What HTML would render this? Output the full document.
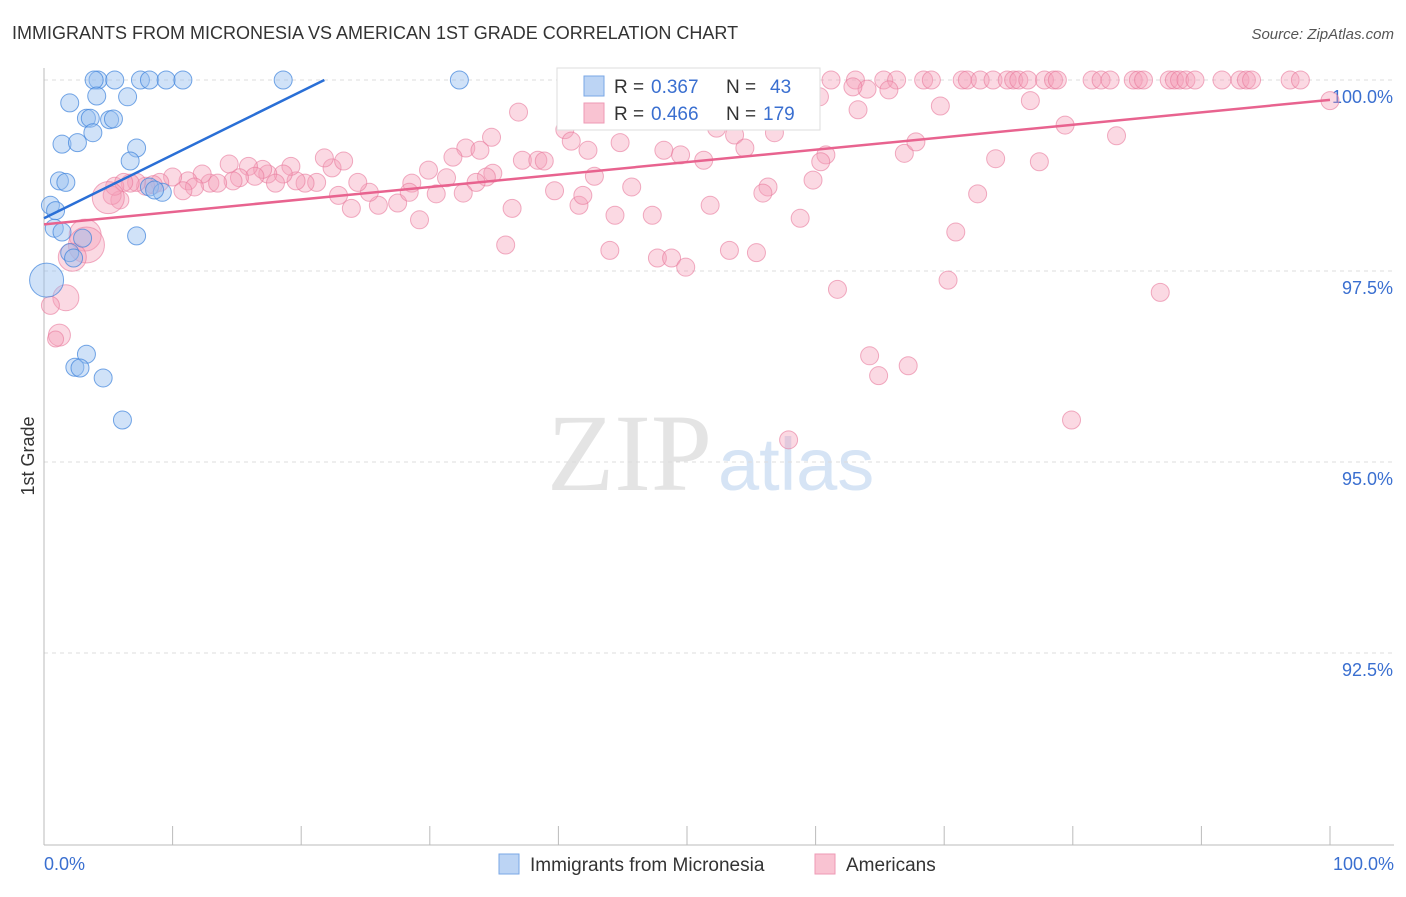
<!DOCTYPE html>
<html><head><meta charset="utf-8"><style>
body{margin:0;background:#fff;font-family:"Liberation Sans",sans-serif;}
</style></head><body>
<svg width="1406" height="892" xmlns="http://www.w3.org/2000/svg" id="chart">
<text x="12" y="39" font-size="18" fill="#333">IMMIGRANTS FROM MICRONESIA VS AMERICAN 1ST GRADE CORRELATION CHART</text>
<text x="1394" y="39" font-size="15" fill="#555" font-style="italic" text-anchor="end">Source: ZipAtlas.com</text>
<text x="712" y="490" font-size="110" fill="#e4e4e4" text-anchor="end" font-family="Liberation Serif">ZIP</text>
<text x="718" y="490" font-size="74" fill="#d6e4f5">atlas</text>
<g id="grid"></g><g id="axes"></g><g id="pink"></g><g id="blue"></g><g id="lines"></g>
<text transform="translate(34,456) rotate(-90)" font-size="18" fill="#333" text-anchor="middle">1st Grade</text>
<text x="44" y="870" font-size="18" fill="#3a6fd0">0.0%</text>
<text x="1394" y="870" font-size="18" fill="#3a6fd0" text-anchor="end">100.0%</text>
<g>
<rect x="557" y="68" width="263" height="62" fill="#fff" stroke="#ddd"/>
<rect x="584" y="76" width="20" height="20" fill="#bcd4f4" stroke="#7aa7e6"/>
<rect x="584" y="103" width="20" height="20" fill="#f9c3d2" stroke="#ee9ab4"/>
<text x="614" y="93" font-size="19" fill="#333">R =</text>
<text x="651" y="93" font-size="19" fill="#3a6fd0">0.367</text>
<text x="726" y="93" font-size="19" fill="#333">N =</text>
<text x="770" y="93" font-size="19" fill="#3a6fd0">43</text>
<text x="614" y="120" font-size="19" fill="#333">R =</text>
<text x="651" y="120" font-size="19" fill="#3a6fd0">0.466</text>
<text x="726" y="120" font-size="19" fill="#333">N =</text>
<text x="763" y="120" font-size="19" fill="#3a6fd0">179</text>
</g>
<g>
<rect x="499" y="854" width="20" height="20" fill="#bcd4f4" stroke="#7aa7e6"/>
<text x="530" y="871" font-size="19" fill="#333">Immigrants from Micronesia</text>
<rect x="815" y="854" width="20" height="20" fill="#f9c3d2" stroke="#ee9ab4"/>
<text x="846" y="871" font-size="19" fill="#333">Americans</text>
</g>
</svg>
<script>
const yTicks=[100,97.5,95,92.5];
const yTickLabels=["100.0%","97.5%","95.0%","92.5%"];
const blueX=[4.2,5.5,7.5,8.2,9.5,10.8,18.6,32.3,3.9,2.0,4.1,6.5,3.3,3.6,5.1,5.4,3.8,1.4,2.6,7.2,6.7,1.2,1.7,8.2,9.2,8.6,0.5,0.9,0.8,1.4,7.2,3.0,2.0,2.3,0.2,3.3,2.4,2.8,4.6,6.1];
const blueY=[100,100,100,100,100,100,100,100,100,99.70,99.79,99.78,99.50,99.50,99.48,99.49,99.31,99.16,99.18,99.11,98.94,98.68,98.66,98.60,98.53,98.56,98.36,98.29,98.06,98.01,97.96,97.93,97.74,97.67,97.38,96.41,96.24,96.23,96.10,95.55];
const blueR=[9,9,9,9,9,9,9,9,9,9,9,9,9,9,9,9,9,9,9,9,9,9,9,9,9,9,9,9,9,9,9,9,9,9,17,9,9,9,9,9];
const pinkX=[59.3,61.2,63.1,65.3,66.3,68.4,69.0,71.4,71.8,72.8,73.8,74.9,75.4,75.8,76.5,77.8,78.5,78.8,81.5,82.2,82.9,84.7,85.1,85.5,87.5,87.9,88.3,88.8,89.5,91.6,93.0,93.5,93.9,96.9,97.7,
100.0,76.7,69.7,63.3,64.0,65.7,62.9,60.3,52.3,52.3,54.2,53.7,56.8,45.3,43.3,40.5,41.0,36.9,34.8,32.8,33.9,31.8,37.2,38.4,38.9,42.3,44.8,48.2,49.5,51.3,54.5,60.8,60.4,66.9,67.8,79.4,83.4,74.0,77.4,
59.8,56.3,55.9,51.8,45.7,42.8,39.7,41.6,41.9,36.4,34.9,34.4,33.6,32.6,31.3,30.5,29.9,28.6,27.5,28.4,26.0,25.3,24.4,23.9,22.9,22.4,21.8,23.3,21.2,20.3,19.6,19.2,18.6,17.4,18.0,17.0,15.9,16.4,14.4,15.2,14.7,12.9,12.3,13.5,11.2,11.7,10.8,10.0,9.0,8.5,7.9,7.2,6.7,5.9,5.3,5.5,6.2,
29.2,35.9,44.4,47.3,58.8,72.6,70.9,44.0,47.7,48.8,49.9,53.3,55.4,61.7,70.3,86.8,64.2,64.9,67.2,79.9,57.9,
5.0,3.2,3.3,2.2,1.7,0.5,1.2,0.9];
const pinkY=[100,100,100,100,100,100,100,100,100,100,100,100,100,100,100,100,100,100,100,100,100,100,100,100,100,100,100,100,100,100,100,100,100,100,100,
99.73,99.73,99.66,99.61,99.88,99.87,99.91,99.78,99.57,99.37,99.57,99.28,99.31,99.58,99.57,99.35,99.20,99.58,99.25,99.11,99.08,98.99,98.95,98.95,98.94,99.08,99.18,99.08,99.02,98.95,99.11,99.02,98.93,99.04,99.19,99.41,99.27,98.97,98.93,
98.69,98.60,98.52,98.36,98.60,98.74,98.55,98.36,98.49,98.32,98.78,98.73,98.66,98.52,98.72,98.51,98.82,98.65,98.39,98.53,98.36,98.53,98.66,98.32,98.49,98.85,98.98,98.94,98.66,98.65,98.68,98.87,98.77,98.77,98.65,98.83,98.87,98.74,98.90,98.72,98.68,98.65,98.77,98.65,98.68,98.60,98.55,98.73,98.66,98.63,98.61,98.66,98.65,98.43,98.49,98.61,98.66,
98.17,97.84,98.23,98.23,98.19,98.51,98.01,97.77,97.67,97.67,97.55,97.77,97.74,97.26,97.38,97.22,96.39,96.13,96.26,95.55,95.29,
98.46,97.97,97.84,97.68,97.15,97.05,96.66,96.61];
const pinkBigR=[16,16,18,14,13,9,11,8];
const blueTrend=[[0,98.19],[21.8,100]];
const pinkTrend=[[0,98.11],[100,99.74]];
const xs=v=>44+v*12.86, ys=v=>80+(100-v)*76.4;
const NS="http://www.w3.org/2000/svg";
function mk(p,t,a){const e=document.createElementNS(NS,t);for(const k in a)e.setAttribute(k,a[k]);p.appendChild(e);return e;}
const grid=document.getElementById('grid');
yTicks.forEach((t,i)=>{const l=mk(grid,'line',{x1:44,x2:1394,y1:ys(t),y2:ys(t),stroke:'#ddd','stroke-dasharray':'4,4'});


const tx=mk(grid,'text',{x:1393,y:ys(t)+23,'font-size':18,fill:'#3a6fd0','text-anchor':'end'});tx.textContent=yTickLabels[i];

});
const ax=document.getElementById('axes');
const xa=mk(ax,'line',{x1:44,x2:1394,y1:845,y2:845,stroke:'#bbb'});


const ya=mk(ax,'line',{x1:44,x2:44,y1:68,y2:845,stroke:'#bbb'});


for(let i=0;i<=10;i++){const t=mk(ax,'line',{x1:xs(i*10),x2:xs(i*10),y1:826,y2:845,stroke:'#bbb'});

}
const pg=document.getElementById('pink');
pinkX.forEach((x,i)=>{const n=pinkX.length-pinkBigR.length;const r=i>=n?pinkBigR[i-n]:9;
const c=mk(pg,'circle',{cx:xs(x),cy:ys(pinkY[i]),r:r,fill:'rgba(246,160,185,0.4)',stroke:'rgba(232,120,155,0.6)','stroke-width':1});

});
const bg=document.getElementById('blue');
blueX.forEach((x,i)=>{const c=mk(bg,'circle',{cx:xs(x),cy:ys(blueY[i]),r:blueR[i],fill:'rgba(150,190,240,0.45)',stroke:'rgba(60,130,220,0.7)','stroke-width':1});

});
const lg=document.getElementById('lines');
const bl=mk(lg,'line',{x1:xs(blueTrend[0][0]),y1:ys(blueTrend[0][1]),x2:xs(blueTrend[1][0]),y2:ys(blueTrend[1][1]),stroke:'#2a6fd6','stroke-width':2.5});


const pl=mk(lg,'line',{x1:xs(pinkTrend[0][0]),y1:ys(pinkTrend[0][1]),x2:xs(pinkTrend[1][0]),y2:ys(pinkTrend[1][1]),stroke:'#e8638f','stroke-width':2.5});


</script>
</body></html>
